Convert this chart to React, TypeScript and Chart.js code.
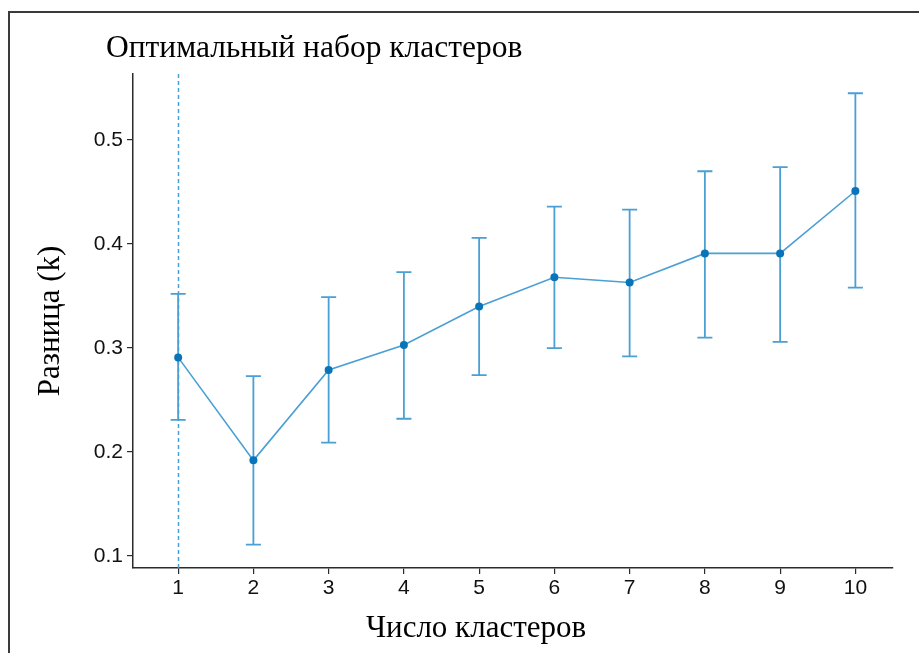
import React, { useEffect, useRef } from "react";
import { Chart, registerables } from "chart.js";

Chart.register(...registerables);

const chartTitle = "Оптимальный набор кластеров";
const xTitle = "Число кластеров";
const yTitle = "Разница (k)";

const clusters = [1, 2, 3, 4, 5, 6, 7, 8, 9, 10];
const gap = [0.291, 0.192, 0.279, 0.303, 0.34, 0.368, 0.363, 0.391, 0.391, 0.451];
const lower = [0.231, 0.111, 0.209, 0.232, 0.274, 0.3, 0.292, 0.31, 0.306, 0.358];
const upper = [0.352, 0.273, 0.349, 0.373, 0.406, 0.436, 0.433, 0.47, 0.474, 0.545];
const yTicks = [0.1, 0.2, 0.3, 0.4, 0.5];
const optimalK = 1;

const LINE = "#4a9fd4";
const POINT = "#0a74b9";
const AXIS = "#2b2b2b";
const SERIF = '"Liberation Serif", "Times New Roman", serif';
const SANS = '"Liberation Sans", Arial, sans-serif';

export default function App() {
  const ref = useRef<HTMLCanvasElement>(null);

  useEffect(() => {
    document.body.style.margin = "0";
    const extras = {
      id: "extras",
      beforeDatasetsDraw(chart: any) {
        const { ctx, chartArea, scales } = chart;
        const xs = scales.x;
        const ys = scales.y;
        ctx.save();
        ctx.strokeStyle = LINE;
        ctx.lineWidth = 1.5;
        ctx.setLineDash([4, 3]);
        const xo = Math.round(xs.getPixelForValue(optimalK)) + 0.5;
        ctx.beginPath();
        ctx.moveTo(xo, chartArea.top);
        ctx.lineTo(xo, chartArea.bottom);
        ctx.stroke();
        ctx.setLineDash([]);
        ctx.lineWidth = 1.8;
        for (let i = 0; i < clusters.length; i++) {
          const x = xs.getPixelForValue(clusters[i]);
          const half = xs.getPixelForValue(clusters[i] + 0.1) - x;
          const yl = ys.getPixelForValue(lower[i]);
          const yu = ys.getPixelForValue(upper[i]);
          ctx.beginPath();
          ctx.moveTo(x, yl);
          ctx.lineTo(x, yu);
          ctx.moveTo(x - half, yl);
          ctx.lineTo(x + half, yl);
          ctx.moveTo(x - half, yu);
          ctx.lineTo(x + half, yu);
          ctx.stroke();
        }
        ctx.restore();
      },
      afterDraw(chart: any) {
        const { ctx, chartArea } = chart;
        ctx.save();
        ctx.fillStyle = "#000";
        ctx.font = `31.5px ${SERIF}`;
        ctx.textAlign = "left";
        ctx.textBaseline = "alphabetic";
        ctx.fillText(chartTitle, 106, 57);
        ctx.font = `31px ${SERIF}`;
        ctx.textAlign = "center";
        ctx.fillText(xTitle, 476, 637);
        ctx.translate(59, (chartArea.top + chartArea.bottom) / 2);
        ctx.rotate(-Math.PI / 2);
        ctx.fillText(yTitle, 0, 0);
        ctx.restore();
      },
    };

    const chart = new Chart(ref.current as HTMLCanvasElement, {
      type: "line",
      data: {
        datasets: [
          {
            data: clusters.map((k, i) => ({ x: k, y: gap[i] })),
            borderColor: LINE,
            borderWidth: 1.6,
            pointRadius: 4,
            pointBackgroundColor: POINT,
            pointBorderColor: POINT,
            pointBorderWidth: 0,
            tension: 0,
          },
        ],
      },
      options: {
        responsive: false,
        maintainAspectRatio: false,
        animation: false,
        layout: { padding: { left: 0, top: 74, right: 26, bottom: 0 } },
        plugins: { legend: { display: false }, tooltip: { enabled: false }, title: { display: false } },
        scales: {
          x: {
            type: "linear",
            min: 0.4,
            max: 10.5,
            afterBuildTicks: (s: any) => {
              s.ticks = clusters.map((v) => ({ value: v }));
            },
            afterFit: (s: any) => {
              s.height = 85;
            },
            ticks: {
              font: { family: SANS, size: 21 },
              color: "#111",
              padding: 2,
              autoSkip: false,
              maxRotation: 0,
              callback: (v: any) => String(v),
            },
            grid: { drawOnChartArea: false, drawTicks: true, tickLength: 6, color: AXIS, lineWidth: 1.2 },
            border: { display: true, color: AXIS, width: 1.5 },
          },
          y: {
            type: "linear",
            min: 0.0885,
            max: 0.5635,
            afterBuildTicks: (s: any) => {
              s.ticks = yTicks.map((v) => ({ value: v }));
            },
            afterFit: (s: any) => {
              s.width = 133;
            },
            ticks: {
              font: { family: SANS, size: 21 },
              color: "#111",
              padding: 4,
              callback: (v: any) => Number(v).toFixed(1),
            },
            grid: { drawOnChartArea: false, drawTicks: true, tickLength: 6, color: AXIS, lineWidth: 1.2 },
            border: { display: true, color: AXIS, width: 1.5 },
          },
        },
      },
      plugins: [extras],
    } as any);
    return () => chart.destroy();
  }, []);

  return (
    <div style={{ position: "relative", width: 919, height: 653, overflow: "hidden", background: "#fff" }}>
      <div
        style={{
          position: "absolute",
          left: 8,
          top: 11,
          width: 2000,
          height: 2000,
          border: "2px solid #3a3a3a",
        }}
      />
      <canvas ref={ref} width={919} height={653} style={{ position: "absolute", left: 0, top: 0 }} />
    </div>
  );
}
